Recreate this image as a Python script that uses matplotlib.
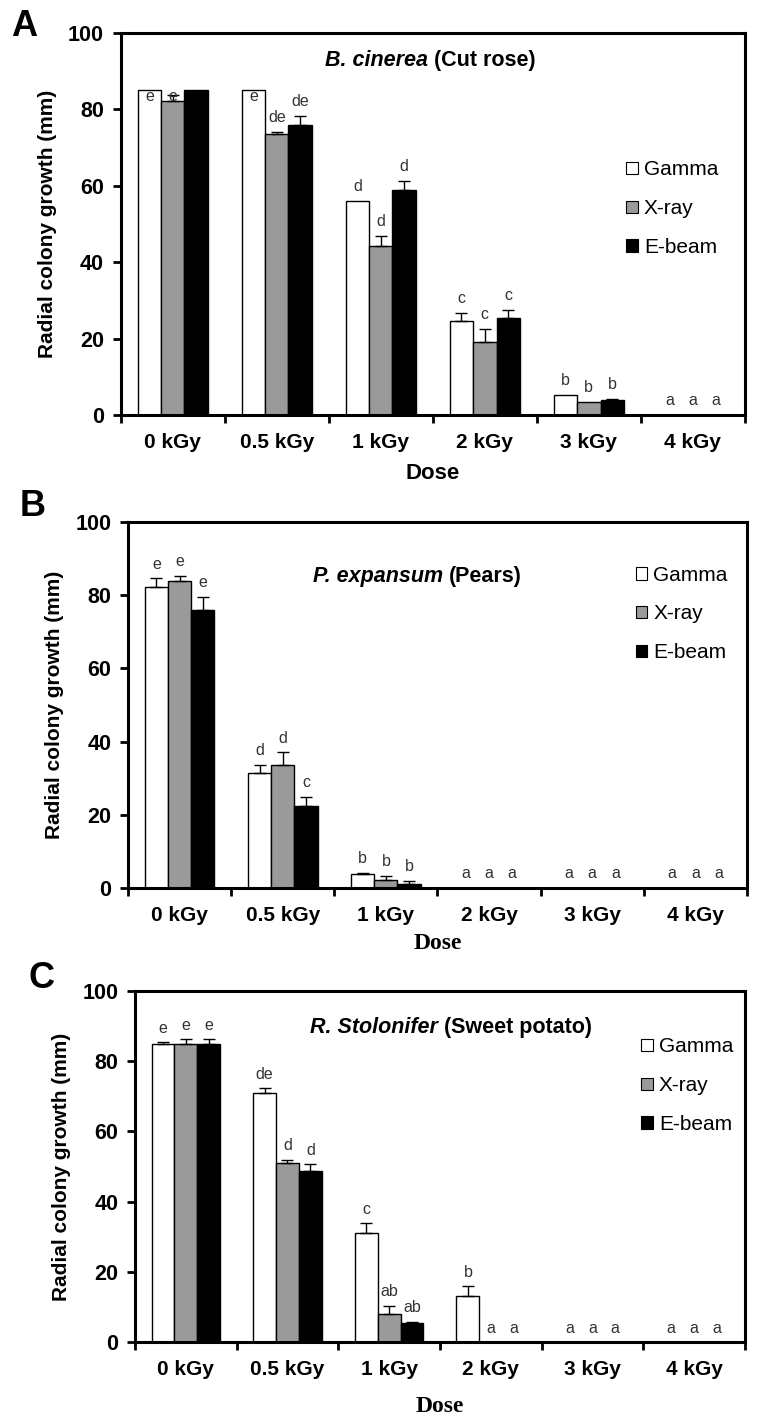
import numpy as np
import matplotlib
matplotlib.use("Agg")
import matplotlib.pyplot as plt
from matplotlib.patches import Patch

plt.rcParams['font.family'] = ['Liberation Sans', 'DejaVu Sans']

doses = ["0 kGy", "0.5 kGy", "1 kGy", "2 kGy", "3 kGy", "4 kGy"]
series = ["Gamma", "X-ray", "E-beam"]
colors = ["white", "#9a9a9a", "black"]

# panel A - B. cinerea (Cut rose)
a_gamma = [85, 85, 56.1, 24.7, 5.2, 0]
a_xray = [82.3, 73.5, 44.2, 19.2, 3.4, 0]
a_ebeam = [85, 75.9, 58.9, 25.4, 4.0, 0]
a_gamma_err = [0, 0, 0, 2.0, 0, 0]
a_xray_err = [1.5, 0.5, 2.7, 3.4, 0, 0]
a_ebeam_err = [0, 2.3, 2.4, 2.1, 0.3, 0]
a_gamma_lab = ["e", "e", "d", "c", "b", "a"]
a_xray_lab = ["e", "de", "d", "c", "b", "a"]
a_ebeam_lab = ["", "de", "d", "c", "b", "a"]

# panel B - P. expansum (Pears)
b_gamma = [82.2, 31.3, 3.8, 0, 0, 0]
b_xray = [83.9, 33.6, 2.3, 0, 0, 0]
b_ebeam = [76.0, 22.4, 1.1, 0, 0, 0]
b_gamma_err = [2.4, 2.4, 0.3, 0, 0, 0]
b_xray_err = [1.4, 3.5, 1.0, 0, 0, 0]
b_ebeam_err = [3.6, 2.5, 0.8, 0, 0, 0]
b_gamma_lab = ["e", "d", "b", "a", "a", "a"]
b_xray_lab = ["e", "d", "b", "a", "a", "a"]
b_ebeam_lab = ["e", "c", "b", "a", "a", "a"]

# panel C - R. Stolonifer (Sweet potato)
c_gamma = [85.0, 70.9, 31.0, 13.1, 0, 0]
c_xray = [85.0, 50.9, 7.9, 0, 0, 0]
c_ebeam = [85.0, 48.7, 5.5, 0, 0, 0]
c_gamma_err = [0.5, 1.4, 2.8, 2.8, 0, 0]
c_xray_err = [1.2, 1.0, 2.4, 0, 0, 0]
c_ebeam_err = [1.2, 1.9, 0.3, 0, 0, 0]
c_gamma_lab = ["e", "de", "c", "b", "a", "a"]
c_xray_lab = ["e", "d", "ab", "a", "a", "a"]
c_ebeam_lab = ["e", "d", "ab", "a", "a", "a"]


def panel(ax, vals, errs, labs, letter, letter_y, sp, rest, title_x, title_y,
          leg_x, leg_y, dose_serif, dose_pad, label_cap=None):
    x = np.arange(len(doses))
    w = 0.225
    for i in range(3):
        xi = x + (i - 1) * w
        ax.bar(xi, vals[i], w, color=colors[i], edgecolor="black",
               linewidth=1, zorder=2)
        e = np.array(errs[i])
        m = e > 0
        ax.errorbar(xi[m], np.array(vals[i])[m],
                    yerr=[np.zeros(m.sum()), e[m]], fmt="none",
                    ecolor="black", elinewidth=1, capsize=4, capthick=1,
                    zorder=3)
        for j in range(len(doses)):
            if not labs[i][j]:
                continue
            y = vals[i][j] + errs[i][j] + 1.8
            if label_cap is not None:
                y = min(y, label_cap)
            ax.text(xi[j], y, labs[i][j], ha="center", va="bottom",
                    fontsize=11.5, color="#333333", zorder=4)

    ax.set_xlim(-0.5, len(doses) - 0.5)
    ax.set_ylim(0, 100)
    ax.set_yticks(range(0, 101, 20))
    ax.set_xticks(np.arange(len(doses) + 1) - 0.5)
    ax.set_xticklabels([])
    ax.set_xticks(x, minor=True)
    ax.set_xticklabels(doses, minor=True, fontsize=15, fontweight="bold")
    ax.tick_params(axis="x", which="minor", length=0, pad=13)
    ax.tick_params(axis="x", which="major", length=6, width=2, direction="out")
    ax.tick_params(axis="y", length=6, width=2, direction="out", pad=6)
    for t in ax.get_yticklabels():
        t.set_fontsize(15.5)
        t.set_fontweight("bold")
    for s in ax.spines.values():
        s.set_linewidth(2.2)

    ax.set_ylabel("Radial colony growth (mm)", fontsize=15,
                  fontweight="bold", labelpad=8)
    if dose_serif:
        ax.set_xlabel("Dose", fontsize=17, fontweight="bold",
                      family="Liberation Serif", labelpad=dose_pad)
    else:
        ax.set_xlabel("Dose", fontsize=16, fontweight="bold",
                      labelpad=dose_pad)

    t1 = ax.text(title_x, title_y, sp + " ", transform=ax.transAxes,
                 fontsize=15.5, fontweight="bold", style="italic",
                 ha="left", va="center")
    ax.annotate(rest, xy=(1, 0.5), xycoords=t1, ha="left", va="center",
                fontsize=15.5, fontweight="bold")

    handles = [Patch(facecolor=c, edgecolor="black", linewidth=0.8)
               for c in colors]
    ax.legend(handles, series, loc="center left",
              bbox_to_anchor=(leg_x, leg_y), frameon=False, fontsize=15,
              handlelength=0.55, handleheight=0.55, handletextpad=0.3,
              labelspacing=0.95, borderpad=0, borderaxespad=0)

    ax.text(-0.175, letter_y, letter, transform=ax.transAxes, fontsize=26,
            fontweight="bold", ha="left", va="center")


fig = plt.figure(figsize=(7.64, 14.22), dpi=100)

ax_a = fig.add_axes([0.158, 0.7082, 0.817, 0.2686])
panel(ax_a, [a_gamma, a_xray, a_ebeam],
      [a_gamma_err, a_xray_err, a_ebeam_err],
      [a_gamma_lab, a_xray_lab, a_ebeam_lab],
      "A", 1.017, "B. cinerea", "(Cut rose)", 0.327, 0.929, 0.81, 0.54,
      False, 8, label_cap=81.5)

ax_b = fig.add_axes([0.1675, 0.3755, 0.8102, 0.2574])
panel(ax_b, [b_gamma, b_xray, b_ebeam],
      [b_gamma_err, b_xray_err, b_ebeam_err],
      [b_gamma_lab, b_xray_lab, b_ebeam_lab],
      "B", 1.042, "P. expansum", "(Pears)", 0.299, 0.85, 0.82, 0.749,
      True, 6)

ax_c = fig.add_axes([0.1767, 0.0563, 0.7983, 0.2468])
panel(ax_c, [c_gamma, c_xray, c_ebeam],
      [c_gamma_err, c_xray_err, c_ebeam_err],
      [c_gamma_lab, c_xray_lab, c_ebeam_lab],
      "C", 1.037, "R. Stolonifer", "(Sweet potato)", 0.287, 0.897, 0.83, 0.73,
      True, 12)

fig.savefig("out.png", dpi=100)
